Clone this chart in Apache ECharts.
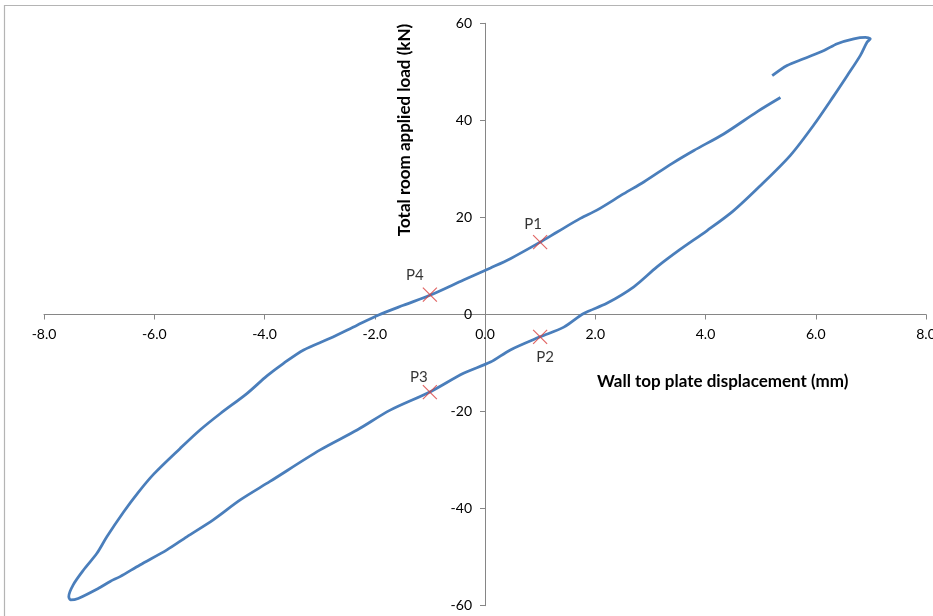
<!DOCTYPE html>
<html>
<head>
<meta charset="utf-8">
<script src="https://cdn.jsdelivr.net/npm/echarts@6/dist/echarts.min.js"></script>
<style>html,body{margin:0;padding:0;background:#fff;}#c{width:933px;height:616px;}</style>
</head>
<body>
<div id="c"></div>
<script>
// Hysteresis loop: wall top plate displacement (mm) vs total room applied load (kN)
const dispX = [5.36,4.94,4.33,3.79,3.39,2.88,2.52,2.03,1.73,1.31,1.0,0.46,0.1,-0.39,-0.99,-1.48,-1.93,-2.32,-2.81,-3.29,-3.66,-3.95,-4.32,-4.80,-5.17,-5.53,-6.01,-6.30,-6.55,-6.86,-7.04,-7.28,-7.47,-7.55,-7.52,
  -7.38,-7.01,-6.80,-6.62,-6.26,-5.77,-5.41,-4.93,-4.44,-3.90,-2.99,-2.32,-1.72,-0.99,-0.39,0.1,0.46,1.0,1.43,1.79,2.21,2.70,3.12,3.54,4.03,4.50,5.00,5.54,5.96,6.33,6.57,6.81,6.93,6.99,6.90,6.69,6.39,6.15,5.78,5.48,5.21];
const loadY = [44.7,41.8,37.2,33.8,31.1,27.3,24.9,21.5,19.8,17.0,14.9,11.5,9.6,7.1,4.0,1.9,-0.1,-2.2,-4.9,-7.3,-10.1,-12.6,-16.3,-20.4,-23.8,-27.6,-32.9,-36.8,-40.6,-45.8,-49.2,-52.6,-55.7,-58.1,-58.8,
  -58.5,-56.4,-55.0,-54.0,-51.6,-48.5,-45.8,-42.3,-38.2,-34.4,-27.9,-23.8,-19.7,-15.9,-12.1,-9.8,-7.3,-4.6,-2.6,0.2,2.3,5.7,9.8,13.4,17.3,21.3,26.6,32.8,39.0,45.1,49.2,53.4,56.1,56.8,57.1,56.8,55.8,54.4,52.7,51.3,49.2];
const markNames = ['P1','P2','P3','P4'];
const markX = [1.0, 1.0, -1.0, -1.0];
const markY = [14.9, -4.6, -16.0, 4.1];
const xTicks = [-8,-6,-4,-2,0,2,4,6,8];
const yTicks = [-60,-40,-20,0,20,40,60];

const FONT = 'Lato, "Open Sans", sans-serif';
const labelOffsets = {P1:[-7,-18], P2:[5,20], P3:[-11,-15], P4:[-15,-19]};

const W = 933, H = 616;
const G = {left: 44, right: 7, top: 23.3, bottom: 10.3};
const plotW = W - G.left - G.right, plotH = H - G.top - G.bottom;
const xMin = xTicks[0], xMax = xTicks[xTicks.length-1];
const yMin = yTicks[0], yMax = yTicks[yTicks.length-1];
// shift the axes so that they cross at the data origin
const yAxisOffset = -plotW * (0 - xMin) / (xMax - xMin);
const xAxisOffset = -plotH * (0 - yMin) / (yMax - yMin);

const chart = echarts.init(document.getElementById('c'), null, {renderer:'canvas'});
chart.setOption({
  animation: false,
  backgroundColor: '#fff',
  grid: {left: G.left, right: G.right, top: G.top, bottom: G.bottom, containLabel: false, outerBoundsMode: 'none'},
  xAxis: {
    type: 'value', min: xMin, max: xMax, interval: 2, position: 'bottom', offset: xAxisOffset,
    axisLine: {onZero: false, lineStyle: {color: '#868686', width: 1}},
    axisTick: {show: true, inside: false, length: 5, lineStyle: {color: '#868686'}},
    splitLine: {show: false},
    axisLabel: {formatter: v => v.toFixed(1), color: '#000', fontFamily: FONT, fontSize: 14, margin: 13, showMinLabel: true, showMaxLabel: true, hideOverlap: false}
  },
  yAxis: {
    type: 'value', min: yMin, max: yMax, interval: 20, position: 'left', offset: yAxisOffset,
    axisLine: {onZero: false, lineStyle: {color: '#868686', width: 1}},
    axisTick: {show: true, inside: false, length: 5, lineStyle: {color: '#868686'}},
    splitLine: {show: false},
    axisLabel: {color: '#000', fontFamily: FONT, fontSize: 14, margin: 13, showMinLabel: true, showMaxLabel: true, hideOverlap: false}
  },
  graphic: [
    {type: 'rect', shape: {x: 4.5, y: 5.5, width: 1000, height: 1000}, style: {fill: 'none', stroke: '#b4b4b4', lineWidth: 1.2}, silent: true, z: 0},
    {type: 'text', left: 597, top: 373, style: {text: 'Wall top plate displacement (mm)', font: 'bold 17px ' + FONT, fill: '#000'}},
    {type: 'text', x: 405, y: 130, rotation: Math.PI/2, style: {text: 'Total room applied load (kN)', font: 'bold 17px ' + FONT, fill: '#000', align: 'center', verticalAlign: 'middle'}}
  ],
  series: [
    {
      type: 'line',
      data: dispX.map((x, i) => [x, loadY[i]]),
      showSymbol: false,
      smooth: 0.3,
      lineStyle: {color: '#4a7ebb', width: 2.75},
      z: 2
    },
    {
      type: 'scatter',
      data: markX.map((x, i) => ({name: markNames[i], value: [x, markY[i]],
        label: {show: true, formatter: markNames[i], position: 'inside', offset: labelOffsets[markNames[i]]}})),
      symbol: 'path://M0,0L10,10M10,0L0,10',
      symbolSize: 14,
      itemStyle: {color: 'rgba(0,0,0,0)', borderColor: '#d9403f', borderWidth: 1.2},
      label: {color: '#000', fontFamily: FONT, fontSize: 15},
      z: 3
    }
  ]
});
</script>
</body>
</html>
